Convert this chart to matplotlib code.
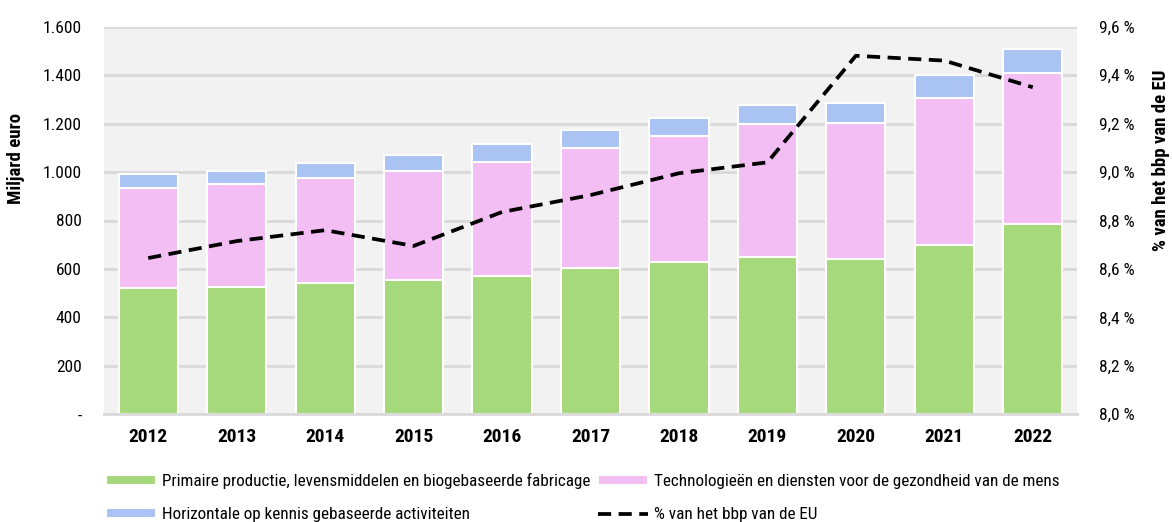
import numpy as np
import matplotlib.pyplot as plt
from matplotlib.ticker import FixedLocator, FixedFormatter

years = ['2012', '2013', '2014', '2015', '2016', '2017', '2018', '2019', '2020', '2021', '2022']
primaire = [520, 527, 541, 553, 570, 605, 628, 650, 640, 700, 784]
technologie = [413, 425, 433, 452, 470, 493, 520, 547, 563, 604, 623]
horizontaal = [57, 53, 62, 65, 75, 74, 77, 78, 80, 95, 103]
bbp_pct = [8.645, 8.715, 8.76, 8.695, 8.835, 8.905, 8.995, 9.04, 9.48, 9.46, 9.35]

labels = ['Primaire productie, levensmiddelen en biogebaseerde fabricage',
          'Technologieën en diensten voor de gezondheid van de mens',
          'Horizontale op kennis gebaseerde activiteiten',
          '% van het bbp van de EU']

green = '#a6d97b'
pink = '#f3bef3'
blue = '#a9c3f2'

plt.rcParams['font.family'] = ['Roboto Condensed', 'DejaVu Sans']

fig = plt.figure(figsize=(11.72, 5.22), dpi=100)
ax = fig.add_axes([104 / 1172, 1 - 414.3 / 522, 973 / 1172, 387.6 / 522])
ax.set_facecolor('#f2f2f2')

x = np.arange(len(years))
w = 0.67
b1 = ax.bar(x, primaire, w, color=green, edgecolor='white', linewidth=1.5, label=labels[0], zorder=2)
b2 = ax.bar(x, technologie, w, bottom=primaire, color=pink, edgecolor='white', linewidth=1.5,
            label=labels[1], zorder=2)
bottom2 = np.array(primaire) + np.array(technologie)
b3 = ax.bar(x, horizontaal, w, bottom=bottom2, color=blue, edgecolor='white', linewidth=1.5,
            label=labels[2], zorder=2)

ax.set_xlim(-0.5, len(years) - 0.5)
ax.set_ylim(0, 1600)
yt = np.arange(0, 1601, 200)
ax.yaxis.set_major_locator(FixedLocator(yt))
ax.yaxis.set_major_formatter(FixedFormatter(['-'] + [f'{v:,}'.replace(',', '.') for v in yt[1:]]))
ax.grid(axis='y', color='#d9d9d9', linewidth=2, zorder=0)
ax.set_axisbelow(True)
for s in ['top', 'right', 'left']:
    ax.spines[s].set_visible(False)
ax.spines['bottom'].set_color('#d9d9d9')
ax.spines['bottom'].set_linewidth(2)
ax.tick_params(axis='both', length=0, labelsize=12.5)
ax.tick_params(axis='y', pad=16)
ax.set_xticks(x)
ax.set_xticklabels(years, fontweight='bold', fontsize=14)
ax.tick_params(axis='x', pad=10)
ax.set_ylabel('Miljard euro', fontweight='bold', fontsize=13.5)
ax.yaxis.set_label_coords(-0.081, 0.66)

ax2 = ax.twinx()
ax2.set_ylim(8.0, 9.6)
ax2.plot(x, bbp_pct, color='black', linestyle=(0, (3.5, 2)), linewidth=2.7, label=labels[3], zorder=3)
rt = np.arange(8.0, 9.61, 0.2)
ax2.yaxis.set_major_locator(FixedLocator(rt))
ax2.yaxis.set_major_formatter(FixedFormatter([f'{v:.1f} %'.replace('.', ',') for v in rt]))
for s in ax2.spines.values():
    s.set_visible(False)
ax2.tick_params(axis='y', length=0, labelsize=12.5, pad=16)
ax2.set_ylabel('% van het bbp van de EU', fontweight='bold', fontsize=13.5)
ax2.yaxis.set_label_coords(1.077, 0.655)

handles = [b1, b3, b2, ax2.get_lines()[0]]
leg_labels = [labels[0], labels[2], labels[1], labels[3]]
fig.legend(handles, leg_labels, loc='lower left', bbox_to_anchor=(106 / 1172, 0.0), ncol=2,
           frameon=False, fontsize=12.3, handlelength=2.95, handleheight=0.46,
           columnspacing=0.4, handletextpad=0.35, labelspacing=1.05,
           borderpad=0, borderaxespad=0)

fig.savefig('out.png', dpi=100)
